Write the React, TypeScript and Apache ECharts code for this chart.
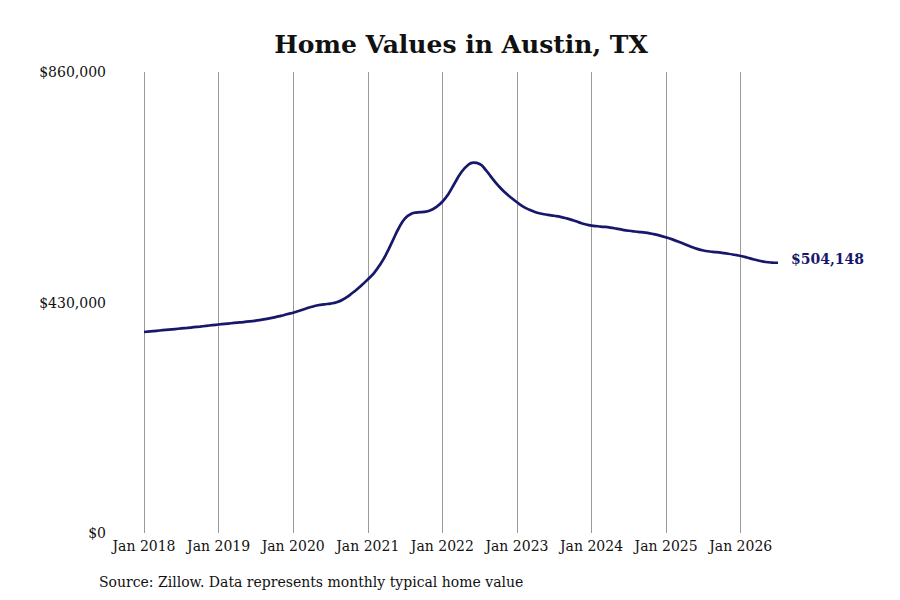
import React, { useEffect, useRef } from 'react';
import * as echarts from 'echarts';

// typical home value, one array per calendar year (monthly, Jan..Dec)
const years = [2018, 2019, 2020, 2021, 2022, 2023, 2024, 2025, 2026];
const months = ['Jan', 'Feb', 'Mar', 'Apr', 'May', 'Jun', 'Jul', 'Aug', 'Sep', 'Oct', 'Nov', 'Dec'];

const v2018 = [375000, 376100, 377200, 378300, 379400, 380500, 381600, 382700, 383900, 385100, 386400, 387700];
const v2019 = [389000, 390200, 391300, 392400, 393500, 394800, 396300, 398000, 400000, 402300, 405000, 408000];
const v2020 = [411000, 414500, 418500, 422000, 424800, 426600, 428000, 430500, 435500, 443000, 452000, 462000];
const v2021 = [473000, 485000, 501000, 521000, 545000, 569000, 587000, 595500, 598000, 599000, 601500, 608000];
const v2022 = [618000, 633000, 653000, 672000, 685000, 691000, 688500, 677000, 662000, 648000, 636000, 626000];
const v2023 = [617000, 609000, 603000, 598500, 595500, 593500, 591800, 589800, 587000, 583500, 579500, 576000];
const v2024 = [573500, 572200, 571200, 569800, 567800, 565600, 563800, 562400, 561200, 559800, 557500, 554800];
const v2025 = [551500, 547800, 543500, 538800, 534000, 530000, 527000, 525200, 524000, 522600, 521000, 519000];
const v2026 = [516800, 514000, 510800, 507800, 505600, 504500, 504148];

const yearValues = [v2018, v2019, v2020, v2021, v2022, v2023, v2024, v2025, v2026];

const yTicks = [0, 430000, 860000];

const categories: string[] = [];
const values: number[] = [];
yearValues.forEach((vals, i) => {
  vals.forEach((v, m) => {
    categories.push(`${months[m]} ${years[i]}`);
    values.push(v);
  });
});

const FONT = '"DejaVu Serif", serif';
const LINE = '#17176b';

const money = (v: number) => '$' + v.toLocaleString('en-US');

const App: React.FC = () => {
  const chartRef = useRef<HTMLDivElement | null>(null);

  useEffect(() => {
    const chart = echarts.init(chartRef.current!, undefined, { renderer: 'svg' });

    const option: echarts.EChartsOption = {
      animation: false,
      backgroundColor: '#fff',
      textStyle: { fontFamily: FONT },
      title: {
        text: 'Home Values in Austin, TX',
        left: 456,
        textAlign: 'center',
        top: 27,
        textStyle: { fontFamily: FONT, fontSize: 25, fontWeight: 'bold', color: '#111' },
      },
      graphic: [
        {
          type: 'text',
          left: 99,
          top: 575,
          style: {
            text: 'Source: Zillow. Data represents monthly typical home value',
            font: `14px ${FONT}`,
            fill: '#111',
          },
        },
      ],
      grid: { left: 144, right: 122, top: 72, bottom: 67 },
      xAxis: {
        type: 'category',
        data: categories,
        boundaryGap: false,
        axisLine: { show: false },
        axisTick: { show: false },
        axisLabel: {
          interval: (idx: number) => idx % 12 === 0,
          margin: 6,
          fontFamily: FONT,
          fontSize: 14,
          color: '#111',
        },
        splitLine: {
          show: true,
          interval: (idx: number) => idx % 12 === 0,
          lineStyle: { color: '#9a9a9a', width: 1 },
        },
      },
      yAxis: {
        type: 'value',
        min: yTicks[0],
        max: yTicks[yTicks.length - 1],
        interval: yTicks[1] - yTicks[0],
        axisLine: { show: false },
        axisTick: { show: false },
        splitLine: { show: false },
        axisLabel: {
          margin: 38,
          fontFamily: FONT,
          fontSize: 14,
          color: '#111',
          formatter: (v: number) => money(v),
        },
      },
      series: [
        {
          type: 'line',
          data: values,
          smooth: 0.5,
          showSymbol: false,
          lineStyle: { color: LINE, width: 2.7 },
          endLabel: {
            show: true,
            distance: 13,
            offset: [0, -4],
            formatter: (p: any) => money(p.value),
            fontFamily: FONT,
            fontSize: 14,
            fontWeight: 'bold',
            color: LINE,
          },
        },
      ],
    };

    chart.setOption(option);
    return () => {
      chart.dispose();
    };
  }, []);

  return <div ref={chartRef} style={{ width: 900, height: 600, position: 'absolute', top: 0, left: 0 }} />;
};

export default App;
